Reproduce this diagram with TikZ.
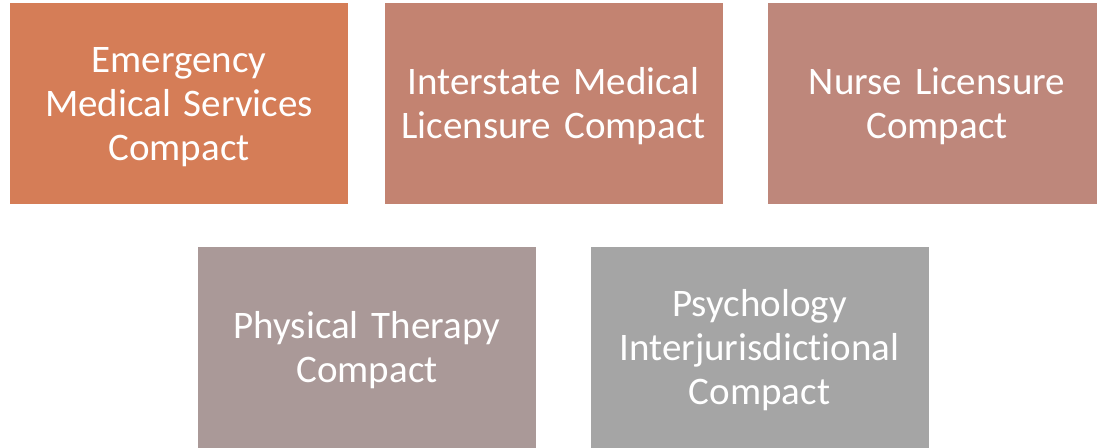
\documentclass[tikz,border=0pt]{standalone}
\usepackage{fontspec}
\setmainfont{Carlito}[Ligatures=NoCommon, WordSpace=0.7]
\definecolor{emsorange}{HTML}{D57D57}
\definecolor{imlcred}{HTML}{C38371}
\definecolor{nlcred}{HTML}{BE877B}
\definecolor{ptgrey}{HTML}{AA9998}
\definecolor{psygrey}{HTML}{A5A5A5}
\begin{document}
\begin{tikzpicture}[x=1pt, y=1pt,
compactbox/.style={rectangle, draw=none, minimum width=338pt, minimum height=201pt, inner sep=0pt, text width=320pt, align=center, text=white, font=\fontsize{39}{44}\selectfont, execute at begin node={\rule{0pt}{32pt}}},
]
\useasboundingbox (0,0) rectangle (1097,-447);
\clip (0,0) rectangle (1097,-447);
%Nodes
\node[compactbox, fill=emsorange] (ems)  at (179,-103.5) {Emergency\\Medical Services\\Compact};
\node[compactbox, fill=imlcred]   (imlc) at (553.5,-103.5) {Interstate Medical\\Licensure Compact};
\node[compactbox, fill=nlcred]    (nlc)  at (937,-103.5) {Nurse Licensure\\Compact};
\node[compactbox, fill=ptgrey]    (pt)   at (367,-347.5) {Physical Therapy\\Compact};
\node[compactbox, fill=psygrey]   (psy)  at (759.5,-347.5) {Psychology\\Interjurisdictional\\Compact};
\end{tikzpicture}
\end{document}
